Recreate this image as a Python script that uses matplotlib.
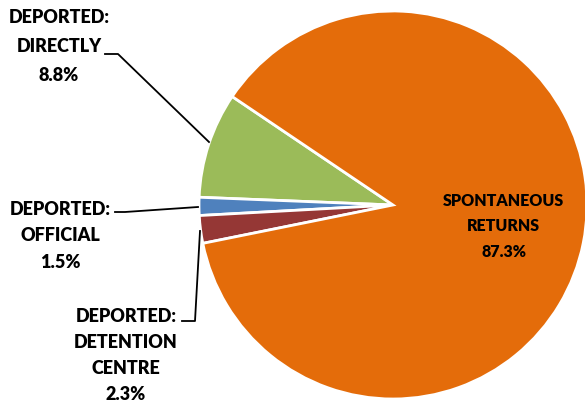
import matplotlib.pyplot as plt

labels = ["DEPORTED:\nDIRECTLY\n8.8%", "DEPORTED:\nOFFICIAL\n1.5%",
          "DEPORTED:\nDETENTION\nCENTRE\n2.3%", "SPONTANEOUS\nRETURNS\n87.3%"]
values = [8.8, 1.5, 2.3, 87.3]
colors = ["#9BBB59", "#4F81BD", "#953735", "#E46C0A"]

H = 402
fig = plt.figure(figsize=(5.85, 4.02), dpi=100)
ax = fig.add_axes([0, 0, 1, 1])
ax.pie(values, colors=colors, startangle=146, counterclock=True,
       center=(393, H - 206), radius=194,
       wedgeprops=dict(edgecolor="white", linewidth=2))
ax.set_xlim(0, 585)
ax.set_ylim(0, H)
ax.set_aspect("equal")
ax.axis("off")

font = dict(family=["Lato", "DejaVu Sans"], fontweight="heavy",
            ha="center", va="center", color="black")

# label text positions (image pixel coords)
ax.text(59, H - 46.5, labels[0], fontsize=13, linespacing=1.83, **font)
ax.text(60, H - 236, labels[1], fontsize=13, linespacing=1.7, **font)
ax.text(126, H - 355.5, labels[2], fontsize=13, linespacing=1.63, **font)
ax.text(503.5, H - 226.5, labels[3], fontsize=11.5, linespacing=1.73, **font)

# leader lines
ax.plot([105, 118, 209], [H - 55, H - 55, H - 143], color="black", lw=1.3)
ax.plot([115, 125, 198], [H - 213, H - 213, H - 208], color="black", lw=1.3)
ax.plot([182, 195, 200], [H - 322, H - 322, H - 232], color="black", lw=1.3)

fig.savefig("out.png", dpi=100)
